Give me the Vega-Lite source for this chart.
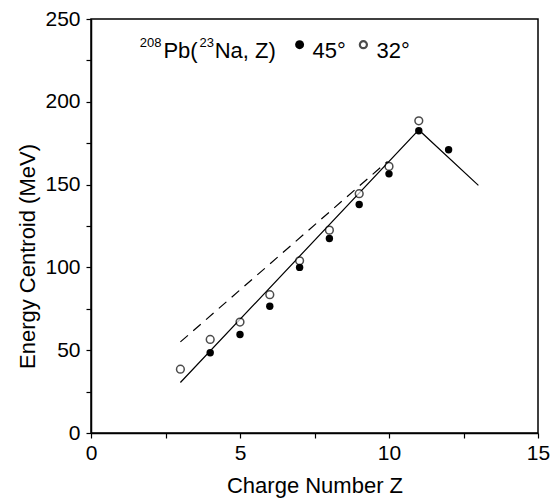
{
  "$schema": "https://vega.github.io/schema/vega-lite/v6.json",
  "width": 447,
  "height": 414,
  "autosize": {"type": "none"},
  "padding": {"left": 91, "top": 19, "right": 14, "bottom": 66},
  "background": "white",
  "config": {
    "view": {"stroke": "black", "strokeWidth": 1.5},
    "font": "Liberation Sans",
    "axis": {
      "grid": false,
      "domainColor": "black",
      "domainWidth": 1.5,
      "tickColor": "black",
      "tickWidth": 1.2,
      "tickSize": 5,
      "labelFont": "Liberation Sans",
      "labelFontSize": 21,
      "labelColor": "black",
      "titleFont": "Liberation Sans",
      "titleFontSize": 22,
      "titleFontWeight": "normal",
      "titleColor": "black",
      "labelFlush": false,
      "labelOverlap": false
    }
  },
  "datasets": {
    "points": [
      {"Z": 4, "E": 48.5, "angle": "45°"},
      {"Z": 5, "E": 59.5, "angle": "45°"},
      {"Z": 6, "E": 76.5, "angle": "45°"},
      {"Z": 7, "E": 100, "angle": "45°"},
      {"Z": 8, "E": 117.5, "angle": "45°"},
      {"Z": 9, "E": 138, "angle": "45°"},
      {"Z": 10, "E": 156.5, "angle": "45°"},
      {"Z": 11, "E": 182.5, "angle": "45°"},
      {"Z": 12, "E": 171, "angle": "45°"},
      {"Z": 3, "E": 38.5, "angle": "32°"},
      {"Z": 4, "E": 56.5, "angle": "32°"},
      {"Z": 5, "E": 67, "angle": "32°"},
      {"Z": 6, "E": 83.5, "angle": "32°"},
      {"Z": 7, "E": 104, "angle": "32°"},
      {"Z": 8, "E": 122.5, "angle": "32°"},
      {"Z": 9, "E": 144.5, "angle": "32°"},
      {"Z": 10, "E": 161, "angle": "32°"},
      {"Z": 11, "E": 188.5, "angle": "32°"}
    ],
    "solid": [
      {"Z": 3, "E": 30.5},
      {"Z": 11, "E": 183},
      {"Z": 13, "E": 149.5}
    ],
    "dashed": [
      {"Z": 3, "E": 55},
      {"Z": 9.95, "E": 164}
    ]
  },
  "layer": [
    {
      "data": {"name": "solid"},
      "mark": {"type": "line", "color": "black", "strokeWidth": 1.2},
      "encoding": {
        "x": {
          "field": "Z", "type": "quantitative",
          "scale": {"domain": [0, 15], "nice": false, "zero": false},
          "axis": {
            "title": "Charge Number  Z",
            "values": [0, 2.5, 5, 7.5, 10, 12.5, 15],
            "labelExpr": "datum.value % 5 === 0 ? datum.label : ''",
            "labelPadding": 4,
            "titleY": 52,
            "titleBaseline": "middle"
          }
        },
        "y": {
          "field": "E", "type": "quantitative",
          "scale": {"domain": [0, 250], "nice": false},
          "axis": {
            "title": "Energy Centroid (MeV)",
            "values": [0, 25, 50, 75, 100, 125, 150, 175, 200, 225, 250],
            "labelExpr": "datum.value % 50 === 0 ? datum.label : ''",
            "labelPadding": 6,
            "titleX": -64,
            "titleY": 237,
            "titleAngle": -90,
            "titleAlign": "center",
            "titleBaseline": "middle"
          }
        }
      }
    },
    {
      "data": {"name": "dashed"},
      "mark": {"type": "line", "color": "black", "strokeWidth": 1.2, "strokeDash": [10, 7]},
      "encoding": {
        "x": {"field": "Z", "type": "quantitative"},
        "y": {"field": "E", "type": "quantitative"}
      }
    },
    {
      "data": {"name": "points"},
      "transform": [{"filter": "datum.angle === '32°'"}],
      "mark": {"type": "point", "shape": "circle", "filled": false, "stroke": "black", "strokeWidth": 1.5, "size": 60, "fill": "white"},
      "encoding": {
        "x": {"field": "Z", "type": "quantitative"},
        "y": {"field": "E", "type": "quantitative"}
      }
    },
    {
      "data": {"name": "points"},
      "transform": [{"filter": "datum.angle === '45°'"}],
      "mark": {"type": "point", "shape": "circle", "filled": true, "color": "black", "opacity": 1, "size": 55},
      "encoding": {
        "x": {"field": "Z", "type": "quantitative"},
        "y": {"field": "E", "type": "quantitative"}
      }
    },
    {
      "data": {"values": [{}]},
      "layer": [
        {"mark": {"type": "text", "align": "left", "fontSize": 13, "font": "Liberation Sans", "color": "black"},
         "encoding": {"x": {"datum": 1.64}, "y": {"datum": 235.5}, "text": {"value": "208"}}},
        {"mark": {"type": "text", "align": "left", "fontSize": 22, "font": "Liberation Sans", "color": "black"},
         "encoding": {"x": {"datum": 2.43}, "y": {"datum": 230.5}, "text": {"value": "Pb("}}},
        {"mark": {"type": "text", "align": "left", "fontSize": 13, "font": "Liberation Sans", "color": "black"},
         "encoding": {"x": {"datum": 3.64}, "y": {"datum": 235.5}, "text": {"value": "23"}}},
        {"mark": {"type": "text", "align": "left", "fontSize": 22, "font": "Liberation Sans", "color": "black"},
         "encoding": {"x": {"datum": 4.15}, "y": {"datum": 230.5}, "text": {"value": "Na, Z)"}}},
        {"mark": {"type": "point", "shape": "circle", "filled": true, "color": "black", "opacity": 1, "size": 80},
         "encoding": {"x": {"datum": 7.0}, "y": {"datum": 234.5}}},
        {"mark": {"type": "text", "align": "left", "fontSize": 22, "font": "Liberation Sans", "color": "black"},
         "encoding": {"x": {"datum": 7.43}, "y": {"datum": 230.5}, "text": {"value": "45°"}}},
        {"mark": {"type": "point", "shape": "circle", "filled": false, "stroke": "black", "strokeWidth": 2.2, "size": 50},
         "encoding": {"x": {"datum": 9.14}, "y": {"datum": 234.5}}},
        {"mark": {"type": "text", "align": "left", "fontSize": 22, "font": "Liberation Sans", "color": "black"},
         "encoding": {"x": {"datum": 9.58}, "y": {"datum": 230.5}, "text": {"value": "32°"}}}
      ]
    }
  ]
}
